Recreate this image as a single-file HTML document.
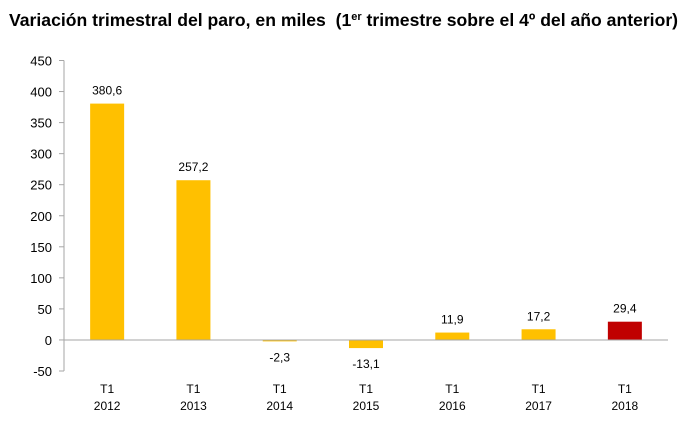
<!DOCTYPE html>
<html><head><meta charset="utf-8"><style>
body{margin:0;background:#fff;width:691px;height:437px;overflow:hidden}
svg{font-family:"Liberation Sans",sans-serif}
</style></head><body>
<svg width="691" height="437">
<text x="9" y="26" font-size="17.6" font-weight="bold" fill="#000" xml:space="preserve">Variación trimestral del paro, en miles  (1<tspan font-size="11" dy="-6">er</tspan><tspan dy="6"> trimestre sobre el 4º del año anterior)</tspan></text>
<g id="g"></g>
</svg>
<script>
const categories=["2012","2013","2014","2015","2016","2017","2018"];
const values=[380.6,257.2,-2.3,-13.1,11.9,17.2,29.4];
const labels=["380,6","257,2","-2,3","-13,1","11,9","17,2","29,4"];
const ticks=[-50,0,50,100,150,200,250,300,350,400,450];
const g=document.getElementById('g');
const NS="http://www.w3.org/2000/svg";
const x0=64,x1=668,yMin=-50,yMax=450,yTop=60.5,yBot=371;
const y=v=>yBot-(v-yMin)/(yMax-yMin)*(yBot-yTop);
const bw=(x1-x0)/categories.length;
function mk(t,a){const e=document.createElementNS(NS,t);for(const k in a)e.setAttribute(k,a[k]);g.appendChild(e);return e;}
let ax=mk('line',{x1:x0,x2:x0,y1:y(yMax),y2:y(yMin),stroke:'#a6a6a6'});


ticks.forEach(t=>{
 let l=mk('line',{x1:x0-5,x2:x0,y1:y(t),y2:y(t),stroke:'#a6a6a6'});
 
 
 let tx=mk('text',{x:x0-12,y:y(t)+5,'font-size':13,'text-anchor':'end',fill:'#000'});
 tx.textContent=t;
 
 
});
categories.forEach((c,i)=>{
 const cx=x0+bw*(i+0.5),v=values[i];
 const top=Math.min(y(v),y(0)),h=Math.abs(y(v)-y(0));
 let r=mk('rect',{x:cx-17,y:top,width:34,height:Math.max(h,1),fill:i==6?'#c00000':'#ffc000'});
 
 
 let ly=v>=0?y(v)-9:y(v)+20;
 let t=mk('text',{x:cx,y:ly,'font-size':12,'text-anchor':'middle',fill:'#000'});
 t.textContent=labels[i];
 
 
 let a=mk('text',{x:cx,y:393,'font-size':12,'text-anchor':'middle',fill:'#000'});
 a.textContent='T1';
 
 
 let b=mk('text',{x:cx,y:410,'font-size':12,'text-anchor':'middle',fill:'#000'});
 b.textContent=c;
 
 
});
let z=mk('line',{x1:x0,x2:x1,y1:y(0),y2:y(0),stroke:'#a6a6a6'});


</script>
</body></html>
